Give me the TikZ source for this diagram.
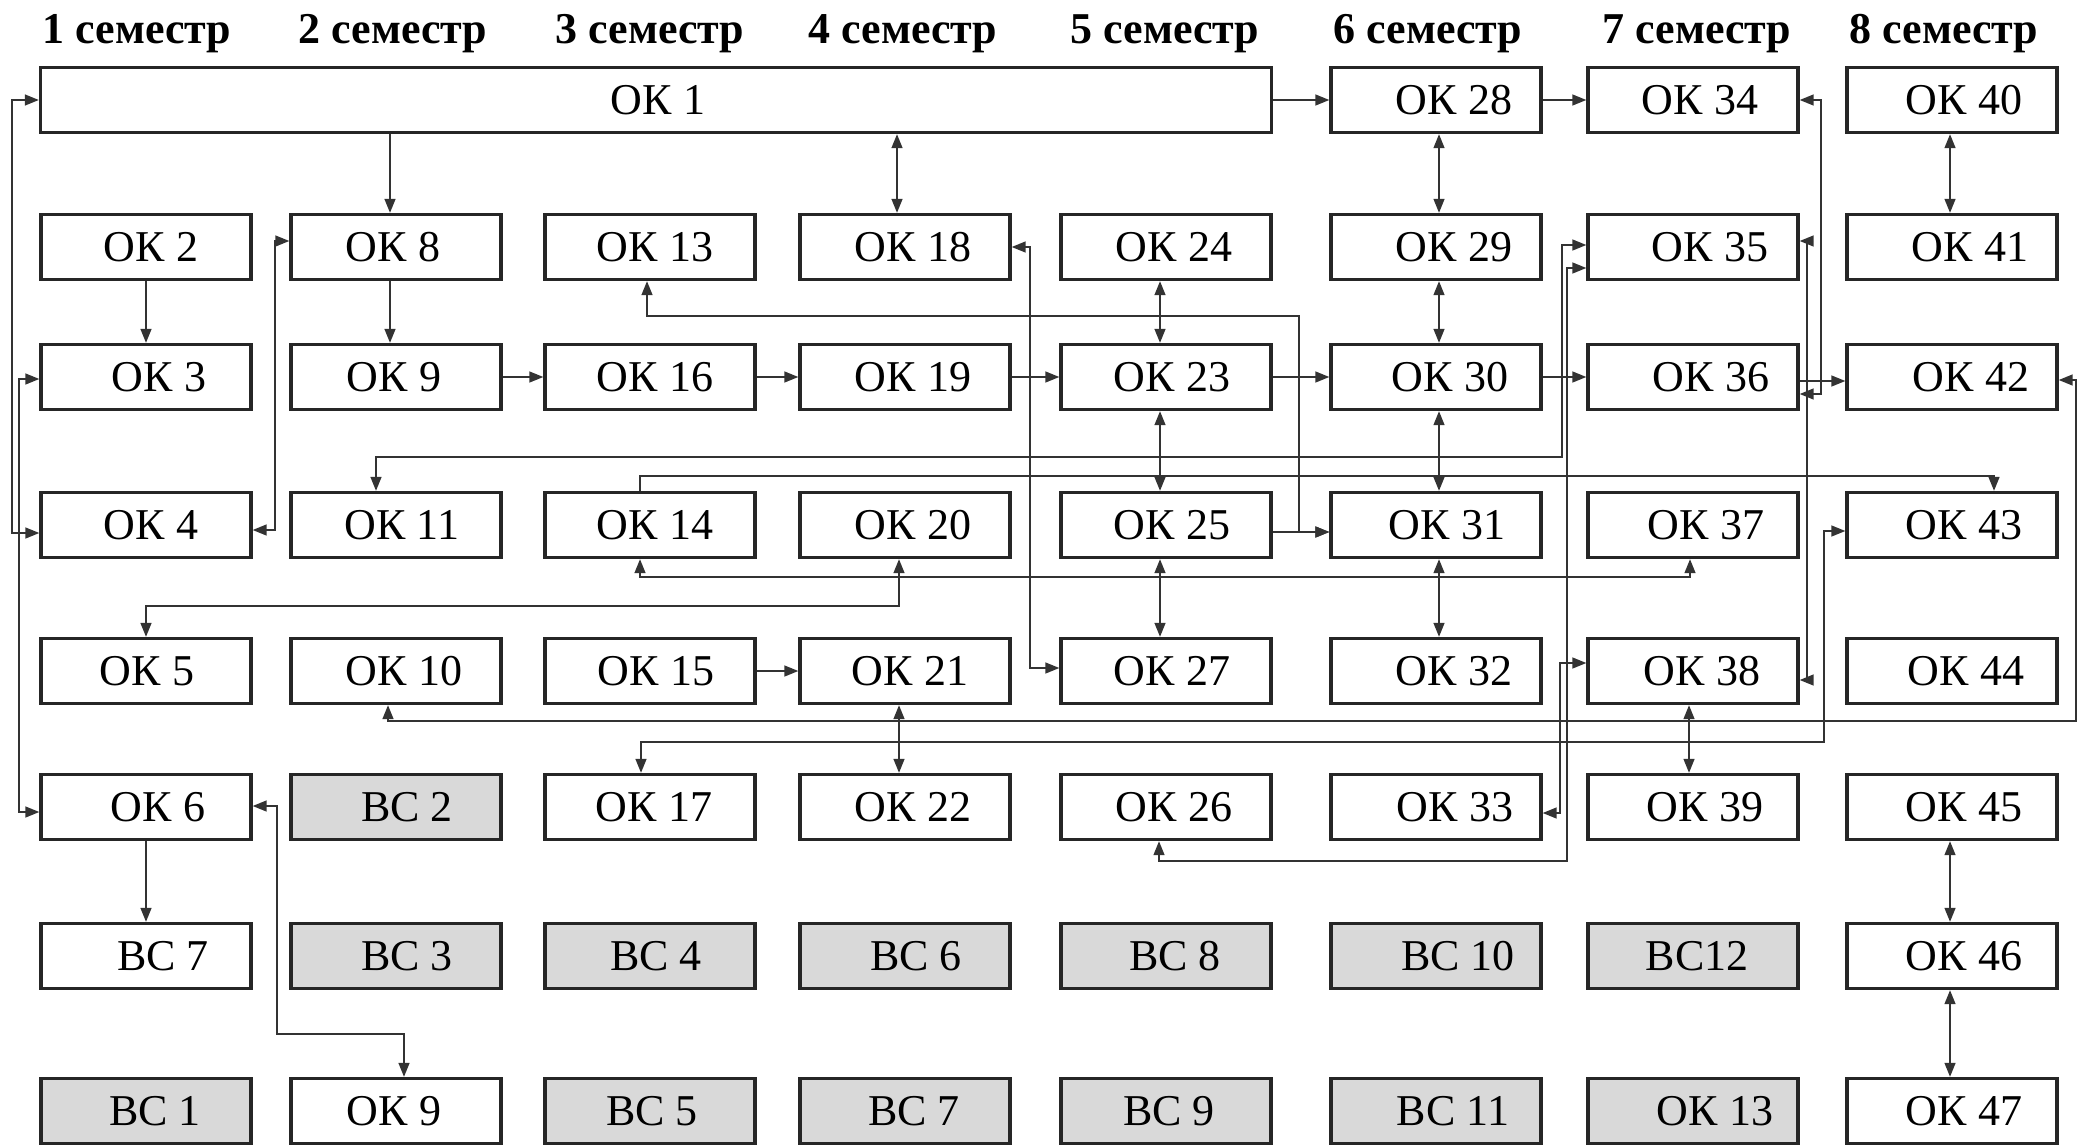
\documentclass[tikz,border=0pt]{standalone}
\usepackage{fontspec}
\setmainfont{Liberation Serif}
\usetikzlibrary{arrows.meta,calc}
\newcommand\kb[5][kbox]{\node[#1] (#2) at (#3) {\hspace*{#5pt}#4};}
\begin{document}
\begin{tikzpicture}[x=0.5pt,y=-0.5pt,
  kbox/.style={draw=black!85,line width=1.7pt,minimum width=105pt,minimum height=32.5pt,inner sep=0pt,fill=white,font=\fontsize{22}{26}\selectfont},
  gbox/.style={kbox,fill=black!15},
  ttl/.style={font=\fontsize{22}{26}\selectfont\bfseries,anchor=base,inner sep=0pt},
  conn/.style={line width=0.75pt,draw=black!80},
  uni/.style={conn,-{Triangle[length=7pt,width=5.5pt]}},
  bi/.style={conn,{Triangle[length=7pt,width=5.5pt]}-{Triangle[length=7pt,width=5.5pt]}}]
\useasboundingbox (0,0) rectangle (2080,1145);
% titles
\node[ttl] (t1) at (137,44) {1 семестр};
\node[ttl] (t2) at (393,44) {2 семестр};
\node[ttl] (t3) at (650,44) {3 семестр};
\node[ttl] (t4) at (903,44) {4 семестр};
\node[ttl] (t5) at (1165,44) {5 семестр};
\node[ttl] (t6) at (1428,44) {6 семестр};
\node[ttl] (t7) at (1697,44) {7 семестр};
\node[ttl] (t8) at (1944,44) {8 семестр};
% row 1
\kb[kbox,minimum width=615.5pt]{ok1}{656,100}{ОК 1}{2}
\kb{ok28}{1436,100}{ОК 28}{18}
\kb{ok34}{1693,100}{ОК 34}{7}
\kb{ok40}{1952,100}{ОК 40}{12}
% row 2
\kb{ok2}{146,247}{ОК 2}{5}
\kb{ok8}{396,247}{ОК 8}{-3}
\kb{ok13}{650,247}{ОК 13}{5}
\kb{ok18}{905,247}{ОК 18}{8}
\kb{ok24}{1166,247}{ОК 24}{8}
\kb{ok29}{1436,247}{ОК 29}{18}
\kb{ok35}{1693,247}{ОК 35}{17}
\kb{ok41}{1952,247}{ОК 41}{18}
% row 3
\kb{ok3}{146,377}{ОК 3}{13}
\kb{ok9}{396,377}{ОК 9}{-2}
\kb{ok16}{650,377}{ОК 16}{5}
\kb{ok19}{905,377}{ОК 19}{8}
\kb{ok23}{1166,377}{ОК 23}{6}
\kb{ok30}{1436,377}{ОК 30}{14}
\kb{ok36}{1693,377}{ОК 36}{18}
\kb{ok42}{1952,377}{ОК 42}{19}
% row 4
\kb{ok4}{146,525}{ОК 4}{5}
\kb{ok11}{396,525}{ОК 11}{6}
\kb{ok14}{650,525}{ОК 14}{5}
\kb{ok20}{905,525}{ОК 20}{8}
\kb{ok25}{1166,525}{ОК 25}{6}
\kb{ok31}{1436,525}{ОК 31}{11}
\kb{ok37}{1693,525}{ОК 37}{13}
\kb{ok43}{1952,525}{ОК 43}{12}
% row 5
\kb{ok5}{146,671}{ОК 5}{1}
\kb{ok10}{396,671}{ОК 10}{8}
\kb{ok15}{650,671}{ОК 15}{6}
\kb{ok21}{905,671}{ОК 21}{5}
\kb{ok27}{1166,671}{ОК 27}{6}
\kb{ok32}{1436,671}{ОК 32}{18}
\kb{ok38}{1693,671}{ОК 38}{9}
\kb{ok44}{1952,671}{ОК 44}{14}
% row 6
\kb{ok6}{146,807}{ОК 6}{12}
\kb[gbox]{bc2}{396,807}{ВС 2}{11}
\kb{ok17}{650,807}{ОК 17}{4}
\kb{ok22}{905,807}{ОК 22}{8}
\kb{ok26}{1166,807}{ОК 26}{8}
\kb{ok33}{1436,807}{ОК 33}{19}
\kb{ok39}{1693,807}{ОК 39}{12}
\kb{ok45}{1952,807}{ОК 45}{12}
% row 7
\kb{bc7a}{146,956}{ВС 7}{17}
\kb[gbox]{bc3}{396,956}{ВС 3}{11}
\kb[gbox]{bc4}{650,956}{ВС 4}{6}
\kb[gbox]{bc6}{905,956}{ВС 6}{11}
\kb[gbox]{bc8}{1166,956}{ВС 8}{9}
\kb[gbox]{bc10}{1436,956}{ВС 10}{22}
\kb[gbox]{bc12}{1693,956}{ВС12}{4}
\kb{ok46}{1952,956}{ОК 46}{12}
% row 8
\kb[gbox]{bc1}{146,1111}{ВС 1}{9}
\kb{okb9}{396,1111}{ОК 9}{-2}
\kb[gbox]{bc5}{650,1111}{ВС 5}{2}
\kb[gbox]{bc7b}{905,1111}{ВС 7}{9}
\kb[gbox]{bc9}{1166,1111}{ВС 9}{3}
\kb[gbox]{bc11}{1436,1111}{ВС 11}{17}
\kb[gbox]{okb13}{1693,1111}{ОК 13}{22}
\kb{ok47}{1952,1111}{ОК 47}{12}
% connectors: left side
\draw[bi] (ok1.west) -- (12,100) |- ($(ok4.west)+(0,8)$);
\draw[bi] ($(ok3.west)+(0,2)$) -- (19,379) |- ($(ok6.west)+(0,5)$);
\draw[bi] ($(ok8.west)+(0,-6)$) -- (275,241) |- ($(ok4.east)+(0,5)$);
\draw[uni] (ok2.south) -- (ok3.north);
\draw[uni] (390,0 |- ok1.south) -- (390,0 |- ok8.north);
\draw[bi] (897,0 |- ok1.south) -- (897,0 |- ok18.north);
\draw[uni] (390,0 |- ok8.south) -- (390,0 |- ok9.north);
\draw[uni] (ok6.south) -- (bc7a.north);
\draw[bi] ($(ok6.east)+(0,-1)$) -- (277,806) |- (404,1034) -- (404,0 |- okb9.north);
% horizontal chains
\foreach \a/\b in {ok9/ok16,ok16/ok19,ok19/ok23,ok23/ok30,ok30/ok36,ok1/ok28,ok28/ok34,ok15/ok21}
  \draw[uni] (\a.east) -- (\b.west);
\draw[uni] ($(ok36.east)+(0,4)$) -- ($(ok42.west)+(0,4)$);
\draw[uni] ($(ok25.east)+(0,7)$) -- ($(ok31.west)+(0,7)$);
% vertical double arrows
\foreach \a/\b/\x in {ok28/ok29/1439,ok29/ok30/1439,ok30/ok31/1439,ok31/ok32/1439,ok24/ok23/1160,ok23/ok25/1160,ok25/ok27/1160,ok40/ok41/1950,ok45/ok46/1950,ok46/ok47/1950,ok21/ok22/899,ok38/ok39/1689}
  \draw[bi] (\x,0 |- \a.south) -- (\x,0 |- \b.north);
% long connectors
\draw[bi] (647,0 |- ok13.south) |- (1299,316) |- ($(ok31.west)+(0,7)$);
\draw[bi] (ok18.east) -- (1030,247) |- ($(ok27.west)+(0,-3)$);
\draw[bi] (376,0 |- ok11.north) |- (1562,457) |- ($(ok35.west)+(0,-2)$);
\draw[bi] (1159,0 |- ok26.south) |- (1567,861) |- ($(ok35.west)+(0,21)$);
\draw[bi] ($(ok33.east)+(0,6)$) -- (1560,813) |- ($(ok38.west)+(0,-8)$);
\draw[bi] (ok34.east) -- (1821,100) |- ($(ok36.east)+(0,17)$);
\draw[bi] ($(ok35.east)+(0,-6)$) -- (1807,241) |- ($(ok38.east)+(0,9)$);
\draw[bi] (388,0 |- ok10.south) |- (2076,721) |- ($(ok42.east)+(0,3)$);
\draw[bi] (641,0 |- ok17.north) |- (1824,742) |- ($(ok43.west)+(0,6)$);
\draw[bi] (ok5.north) |- (899,606) -- (899,0 |- ok20.south);
\draw[bi] (640,0 |- ok14.south) |- (1690,577) -- (1690,0 |- ok37.south);
\draw[uni] (640,0 |- ok14.north) |- (1994,476) -- (1994,0 |- ok43.north);
\end{tikzpicture}
\end{document}
